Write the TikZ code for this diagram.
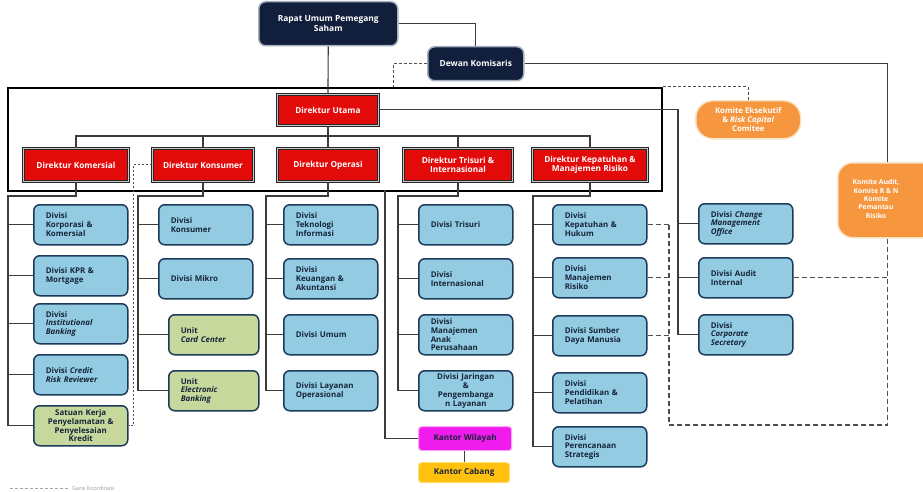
\documentclass[tikz,border=0pt]{standalone}
\usepackage{fontspec}
\setmainfont{Open Sans}
\usetikzlibrary{calc}
\definecolor{navy}{HTML}{111F3C}
\definecolor{navyedge}{HTML}{A4AEBC}
\definecolor{dirred}{HTML}{E30A0A}
\definecolor{divblue}{HTML}{93CCE2}
\definecolor{divedge}{HTML}{1C3A5A}
\definecolor{divtext}{HTML}{16243A}
\definecolor{unitgreen}{HTML}{C6D89C}
\definecolor{orangebox}{HTML}{F6973F}
\definecolor{orangeedge}{HTML}{FBE3C8}
\definecolor{magentabox}{HTML}{F01CEE}
\definecolor{magentaedge}{HTML}{F7A6F5}
\definecolor{goldbox}{HTML}{FFC10D}
\definecolor{goldedge}{HTML}{FFDD77}
\definecolor{linegray}{HTML}{3C3C3C}
\definecolor{dashgray}{HTML}{505050}
\begin{document}
\begin{tikzpicture}[x=1pt,y=-1pt,
  conn/.style={draw=linegray, line width=1.1pt},
  dashconn/.style={draw=dashgray, line width=1.1pt, dash pattern=on 5pt off 3pt},
  shortdash/.style={draw=dashgray, line width=1pt, dash pattern=on 3pt off 2pt},
  dotdash/.style={draw=dashgray, line width=1pt, dash pattern=on 2pt off 2pt},
  frame/.style={draw=black, line width=2.4pt, anchor=north west, inner sep=0pt},
  navybox/.style={fill=navy, draw=navyedge, line width=1.5pt, rounded corners=7pt,
    text=white, font=\fontsize{8.4}{9.5}\selectfont\bfseries, align=center,
    anchor=north west, inner sep=0pt},
  redbox/.style={fill=dirred, draw=black!85, line width=0.9pt, double=gray!45,
    double distance=0.9pt, text=white, font=\fontsize{8.3}{9.4}\selectfont\bfseries,
    align=center, anchor=north west, inner sep=0pt},
  divbox/.style={fill=divblue, draw=divedge, line width=1.5pt, rounded corners=6pt,
    text=divtext, font=\fontsize{7.9}{8.8}\selectfont\bfseries, align=left,
    anchor=north west, text width=70pt, inner xsep=12pt, inner ysep=0pt,
    minimum height=40pt},
  unitbox/.style={divbox, fill=unitgreen, text width=66pt},
  orangebox/.style={fill=orangebox, draw=orangeedge, line width=1.5pt,
    text=white, font=\fontsize{7.8}{9}\selectfont\bfseries, align=center,
    anchor=north west, inner sep=0pt},
  officebox/.style={line width=1.2pt, rounded corners=3pt, text=divtext,
    font=\fontsize{8.2}{9}\selectfont\bfseries, anchor=north west, inner sep=0pt}
]
\useasboundingbox (0,0) rectangle (923,492);

% ---------- top level ----------
\node[frame, minimum width=654pt, minimum height=103pt] (bod) at (7,87) {};
\node[navybox, minimum width=139pt, minimum height=44pt] (rups) at (258,1) {Rapat Umum Pemegang\\Saham};
\node[navybox, minimum width=96pt, minimum height=34pt] (dk) at (427,46) {Dewan Komisaris};
\node[redbox, minimum width=101pt, minimum height=31pt] (du) at (277,94) {Direktur Utama};
\node[redbox, minimum width=105pt, minimum height=33pt] (dkom) at (23,148) {Direktur Komersial};
\node[redbox, minimum width=101pt, minimum height=33pt] (dkon) at (152,148) {Direktur Konsumer};
\node[redbox, minimum width=101pt, minimum height=33pt] (dop) at (277,148) {Direktur Operasi};
\node[redbox, minimum width=109pt, minimum height=33pt] (dtri) at (403,148) {Direktur Trisuri \&\\Internasional};
\node[redbox, minimum width=115pt, minimum height=33pt] (dkep) at (532,148) {Direktur Kepatuhan \&\\Manajemen Risiko};
\node[orangebox, rounded corners=17pt, minimum width=105pt, minimum height=38pt] (ke) at (695,100) {Komite Eksekutif\\\& \textit{Risk Capital}\\Comitee};
\node[orangebox, rounded corners=15pt, minimum width=100pt, minimum height=75pt] (ka) at (837,162) {};
\node[text=white, font=\fontsize{6.8}{8.4}\selectfont\bfseries, align=center] (katext) at (876,199) {Komite Audit,\\Komite R \& N\\Komite\\Pemantau\\Risiko};

% ---------- column 1 ----------
\node[divbox] (korp) at (33,204) {Divisi\\Korporasi \&\\Komersial};
\node[divbox] (kpr) at (33,255) {Divisi KPR \&\\Mortgage};
\node[divbox] (inst) at (33,303) {Divisi\\\textit{Institutional}\\\textit{Banking}};
\node[divbox] (crr) at (33,354) {Divisi \textit{Credit}\\\textit{Risk Reviewer}};
\node[unitbox, fill=unitgreen, text width=70pt, align=center] (sat) at (33,405) {Satuan Kerja\\Penyelamatan \&\\Penyelesaian\\Kredit};

% ---------- column 2 ----------
\node[divbox] (kons) at (158,204) {Divisi\\Konsumer};
\node[divbox] (mikro) at (158,258) {Divisi Mikro};
\node[unitbox] (card) at (168,314) {Unit\\\textit{Card Center}};
\node[unitbox] (ebank) at (168,370) {Unit\\\textit{Electronic}\\\textit{Banking}};

% ---------- column 3 ----------
\node[divbox] (ti) at (283,204) {Divisi\\Teknologi\\Informasi};
\node[divbox] (keu) at (283,258) {Divisi\\Keuangan \&\\Akuntansi};
\node[divbox] (umum) at (283,314) {Divisi Umum};
\node[divbox] (lay) at (283,370) {Divisi Layanan\\Operasional};

% ---------- column 4 ----------
\node[divbox] (tris) at (418,204) {Divisi Trisuri};
\node[divbox] (intl) at (418,258) {Divisi\\Internasional};
\node[divbox] (anak) at (418,314) {Divisi\\Manajemen\\Anak\\Perusahaan};
\node[divbox, align=center] (jar) at (418,370) {Divisi Jaringan\\\&\\Pengembanga\\n Layanan};
\node[officebox, fill=magentabox, draw=magentaedge, minimum width=93pt, minimum height=24pt] (kw) at (418,426) {Kantor Wilayah};
\node[officebox, fill=goldbox, draw=goldedge, minimum width=91pt, minimum height=20pt] (kc) at (418,462) {Kantor Cabang};

% ---------- column 5 ----------
\node[divbox] (kep) at (552,204) {Divisi\\Kepatuhan \&\\Hukum};
\node[divbox] (mr) at (552,257) {Divisi\\Manajemen\\Risiko};
\node[divbox] (sdm) at (552,315) {Divisi Sumber\\Daya Manusia};
\node[divbox] (pend) at (552,372) {Divisi\\Pendidikan \&\\Pelatihan};
\node[divbox] (ren) at (552,426) {Divisi\\Perencanaan\\Strategis};

% ---------- column 6 ----------
\node[divbox] (cmo) at (698,203) {Divisi \textit{Change}\\\textit{Management}\\\textit{Office}};
\node[divbox] (ai) at (698,257) {Divisi Audit\\Internal};
\node[divbox] (cs) at (698,314) {Divisi\\\textit{Corporate}\\\textit{Secretary}};

% ---------- helper coordinates ----------
\coordinate (bar) at (0,136);
\coordinate (drop) at (0,196);
\coordinate (c1) at (8,0);
\coordinate (c2) at (138,0);
\coordinate (c3) at (266,0);
\coordinate (c4) at (398,0);
\coordinate (c5) at (533,0);
\coordinate (c6) at (678,0);
\coordinate (kwtop) at (385,190);
\coordinate (kd) at (133,0);
\coordinate (dd) at (393,87);
\coordinate (dl) at (669,425);

% ---------- solid connectors ----------
\draw[conn] (rups.east) -| (dk.north);
\draw[conn] (rups.south) -- (du.north);
\draw[conn] (du.south) -- (dop.north);
\draw[conn] (dkom.north) -- (dkom.north |- bar) -- (dkep.north |- bar) -- (dkep.north);
\draw[conn] (dkon.north) -- (dkon.north |- bar);
\draw[conn] (dtri.north) -- (dtri.north |- bar);
\draw[conn] (dk.east) -| (ka.north);
\draw[conn] (du.east) -| (c6 |- cs.west) -- (cs.west);
\draw[conn] (c6 |- cmo.west) -- (cmo.west);
\draw[conn] (c6 |- ai.west) -- (ai.west);

\draw[conn] (dkom.south) -- (dkom.south |- drop) -- (c1 |- drop) |- (sat.west);
\foreach \n in {korp,kpr,inst,crr} \draw[conn] (c1 |- \n.west) -- (\n.west);
\draw[conn] (dkon.south) -- (dkon.south |- drop) -- (c2 |- drop) |- (ebank.west);
\foreach \n in {kons,mikro,card} \draw[conn] (c2 |- \n.west) -- (\n.west);
\draw[conn] (dop.south) -- (dop.south |- drop) -- (c3 |- drop) |- (lay.west);
\foreach \n in {ti,keu,umum} \draw[conn] (c3 |- \n.west) -- (\n.west);
\draw[conn] (dtri.south) -- (dtri.south |- drop) -- (c4 |- drop) |- (jar.west);
\foreach \n in {tris,intl,anak} \draw[conn] (c4 |- \n.west) -- (\n.west);
\draw[conn] (dkep.south) -- (dkep.south |- drop) -- (c5 |- drop) |- (ren.west);
\foreach \n in {kep,mr,sdm,pend} \draw[conn] (c5 |- \n.west) -- (\n.west);
\draw[conn] (kwtop) |- (kw.west);
\draw[conn] (kw.south -| kc.north) -- (kc.north);

% ---------- dashed connectors ----------
\draw[shortdash] (dk.west) -| (dd);
\draw[shortdash] (bod.north east) -| (ke.north);
\draw[dotdash] (dkon.west) -| (kd |- sat.east) -- (sat.east);
\draw[dashconn] (ka.south) |- (dl) -- (dl |- kep.east);
\draw[dashconn] (kep.east) -- (dl |- kep.east);
\draw[dashconn] (mr.east) -- (dl |- mr.east);
\draw[dashconn] (sdm.east) -- (dl |- sdm.east);
\draw[dashconn] (ai.east) -- (ka.south |- ai.east);

% ---------- legend ----------
\coordinate (lgA) at (10,488);
\coordinate (lgB) at (68,488);
\draw[draw=gray!70, line width=0.8pt, dash pattern=on 3pt off 2pt] (lgA) -- (lgB);
\node[anchor=base west, text=gray!80, font=\fontsize{5.5}{6}\selectfont, inner sep=0pt] (legend) at (72,490.5) {Garis Koordinasi};
\end{tikzpicture}
\end{document}
